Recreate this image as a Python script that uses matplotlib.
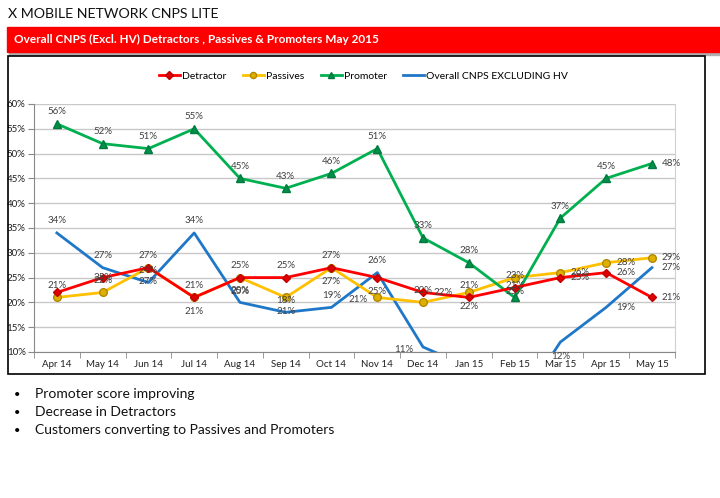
import matplotlib
matplotlib.use("Agg")
import matplotlib.pyplot as plt
from matplotlib.patches import Rectangle

plt.rcParams['font.family'] = ['Lato', 'DejaVu Sans']

months = ["Apr 14", "May 14", "Jun 14", "Jul 14", "Aug 14", "Sep 14", "Oct 14",
          "Nov 14", "Dec 14", "Jan 15", "Feb 15", "Mar 15", "Apr 15", "May 15"]
detractor = [22, 25, 27, 21, 25, 25, 27, 25, 22, 21, 23, 25, 26, 21]
passives = [21, 22, 27, 21, 25, 21, 27, 21, 20, 22, 25, 26, 28, 29]
promoter = [56, 52, 51, 55, 45, 43, 46, 51, 33, 28, 21, 37, 45, 48]
overall = [34, 27, 24, 34, 20, 18, 19, 26, 11, 7, -2, 12, 19, 27]

# where each data label sits: a=above, b=below, r=right, l=left, c=centre, None=hidden
det_pos = [None, 'c', 'b', 'b', 'b', 'a', 'b', 'b', 'r', 'a', 'a', 'r', 'r', 'r']
pas_pos = ['a', 'a', 'a', 'a', 'a', 'b', 'a', 'l', 'a', 'b', 'b', 'r', 'r', 'r']
pro_pos = ['a'] * 13 + ['r']
ove_pos = ['a', 'a', 'a', 'a', 'a', 'a', 'a', 'a', 'l', None, None, 'b', 'r', 'r']

OFFS = {'a': (0, 12, 'center'), 'b': (0, -14, 'center'), 'r': (10, 0, 'left'),
        'l': (-10, -2, 'right'), 'c': (0, 0, 'center')}

fig = plt.figure(figsize=(7.2, 4.98), dpi=100)

fig.text(0.011, 0.972, "X MOBILE NETWORK CNPS LITE", fontsize=10.2, va='center', color='#111111')

# red banner with a little shadow
fig.patches.append(Rectangle((0.012, 0.889), 0.99, 0.0502, transform=fig.transFigure,
                             color='#B0B0B0', zorder=0))
fig.patches.append(Rectangle((0.0097, 0.8956), 0.99, 0.0502, transform=fig.transFigure,
                             color='#FF0000', zorder=1))
fig.text(0.02, 0.921, "Overall CNPS (Excl. HV) Detractors , Passives & Promoters May 2015",
         fontsize=8.5, fontweight='bold', color='white', va='center', zorder=2)

# chart frame
fig.patches.append(Rectangle((0.0111, 0.249), 0.968, 0.6386, transform=fig.transFigure,
                             fill=False, edgecolor='black', linewidth=1.2, zorder=1))

ax = fig.add_axes([0.0472, 0.2932, 0.890, 0.498])
x = list(range(len(months)))

ax.plot(x, detractor, color='#FF0000', lw=2, marker='D', ms=4.5, mfc='#E00000',
        mec='#C00000', label='Detractor', zorder=4)
ax.plot(x, passives, color='#FFC000', lw=2, marker='o', ms=5.5, mfc='#E0B000',
        mec='#B08800', label='Passives', zorder=3)
ax.plot(x, promoter, color='#00B050', lw=2, marker='^', ms=6, mfc='#00904A',
        mec='#007A3D', label='Promoter', zorder=3)
ax.plot(x, overall, color='#1F77C8', lw=2, label='Overall CNPS EXCLUDING HV', zorder=2)


def add_labels(vals, pos):
    for i, (v, p) in enumerate(zip(vals, pos)):
        if p is None:
            continue
        dx, dy, ha = OFFS[p]
        ax.annotate(f"{v}%", (i, v), xytext=(dx, dy), textcoords='offset pixels',
                    ha=ha, va='center', fontsize=7, color='#404040', zorder=6)


add_labels(promoter, pro_pos)
add_labels(overall, ove_pos)
add_labels(passives, pas_pos)
add_labels(detractor, det_pos)

ax.set_xlim(-0.5, len(months) - 0.5)
ax.set_ylim(10, 60)
ax.set_yticks(range(10, 61, 5))
ax.set_yticklabels([f"{t}%" for t in range(10, 61, 5)])
ax.set_xticks(x)
ax.set_xticklabels(months)
ax.set_xticks([i + 0.5 for i in range(-1, len(months))], minor=True)
ax.tick_params(axis='x', which='major', length=0, labelsize=7, pad=6, colors='#202020')
ax.tick_params(axis='x', which='minor', length=4, color='#888888')
ax.tick_params(axis='y', length=4, color='#888888', labelsize=7, pad=2, colors='#202020')
ax.yaxis.grid(True, color='#C8C8C8', lw=1)
ax.set_axisbelow(True)
ax.spines['top'].set_visible(False)
ax.spines['right'].set_color('#D0D0D0')
ax.spines['left'].set_color('#888888')
ax.spines['bottom'].set_color('#888888')

fig.legend(loc='center', bbox_to_anchor=(0.505, 0.847), ncol=4, frameon=False,
           fontsize=7.5, handlelength=2.0, columnspacing=1.6, handletextpad=0.2,
           markerscale=0.8)

bullets = ["Promoter score improving", "Decrease in Detractors",
           "Customers converting to Passives and Promoters"]
for i, b in enumerate(bullets):
    yy = 1 - (394 + i * 18) / 498
    fig.text(0.019, yy, "\u2022", fontsize=8, va='center')
    fig.text(0.048, yy, b, fontsize=10, va='center', color='#111111')

fig.savefig("out.png", dpi=100)
